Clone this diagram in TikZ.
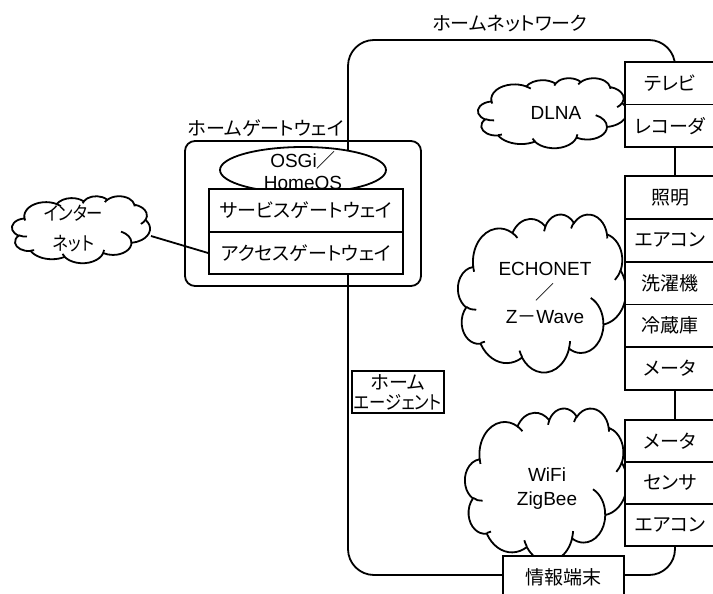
\documentclass[tikz,border=0pt]{standalone}
\usepackage{fontspec}
\usepackage{xfp}
\usepackage{graphicx}
\setmainfont{Liberation Sans}
\newfontfamily\jp[RawFeature=+palt]{Noto Sans CJK JP}
\usetikzlibrary{shapes.geometric}

% ---- cloud outline (43200 x 43200 design space, y downwards) ----
\newcommand\ooConv[3]{(#3)+(atand((#1)*sind(#3),(#2)*cosd(#3))-(#3))-360*round((atand((#1)*sind(#3),(#2)*cosd(#3))-(#3))/360)}
\newcommand\ooMove[2]{\pgfpathmoveto{\pgfpoint{\fpeval{round(\ooX+(#1)*\ooW/43200,4)}pt}{\fpeval{round(-(\ooY+(#2)*\ooH/43200),4)}pt}}}
\newcommand\ooArc[4]{%
  \edef\ooTs{\fpeval{round(-(\ooConv{#1}{#2}{#3}),4)}}%
  \edef\ooTe{\fpeval{round(-(\ooConv{#1}{#2}{(#3)+(#4)}),4)}}%
  \edef\ooRx{\fpeval{round((#1)*\ooW/43200,4)}}%
  \edef\ooRy{\fpeval{round((#2)*\ooH/43200,4)}}%
  \pgfpatharc{\ooTs}{\ooTe}{\ooRx pt and \ooRy pt}}
% #1,#2 top-left corner, #3 width, #4 height
\newcommand\ooCloud[4]{%
  \begin{pgfscope}
  \def\ooX{#1}\def\ooY{#2}\def\ooW{#3}\def\ooH{#4}%
  \ooMove{3900}{14370}%
  \ooArc{6753}{9190}{-190.4875}{123.7805}%
  \ooArc{5333}{7267}{-144.1024}{89.9452}%
  \ooArc{4365}{5945}{-145.8079}{99.7230}%
  \ooArc{4857}{6595}{-130.9861}{117.2417}%
  \ooArc{5333}{7273}{-78.7089}{109.0269}%
  \ooArc{6775}{9220}{-46.2673}{130.2690}%
  \ooArc{5785}{7867}{0.6250}{114.0333}%
  \ooArc{6752}{9215}{22.4516}{115.1726}%
  \ooArc{7720}{10543}{66.2426}{75.7110}%
  \ooArc{4360}{5918}{-274.9421}{146.7356}%
  \ooArc{4345}{5945}{-246.8285}{152.5189}%
  \pgfpathclose
  \pgfsetfillcolor{white}%
  \pgfusepath{fill,stroke}%
  \ooMove{4693}{26177}\ooArc{4345}{5945}{86.7420}{26.4295}%
  \ooMove{6928}{34899}\ooArc{4360}{5918}{73.6105}{11.4475}%
  \ooMove{16478}{39090}\ooArc{6752}{9215}{137.6242}{14.0811}%
  \ooMove{28827}{34751}\ooArc{6752}{9215}{6.4533}{15.9984}%
  \ooMove{34129}{22954}\ooArc{5785}{7867}{-70.2924}{70.9174}%
  \ooMove{41798}{15354}\ooArc{5333}{7273}{30.3180}{27.7515}%
  \ooMove{38324}{5426}\ooArc{4857}{6595}{-13.7443}{14.8589}%
  \ooMove{29078}{3952}\ooArc{4857}{6595}{-149.1815}{18.1954}%
  \ooMove{22141}{4720}\ooArc{4365}{5945}{-163.4943}{17.6864}%
  \ooMove{14000}{5192}\ooArc{6753}{9190}{-66.7070}{12.3194}%
  \ooMove{4127}{15789}\ooArc{6753}{9190}{157.6544}{11.8582}%
  \pgfusepath{stroke}%
  \end{pgfscope}}
\newcommand\narrow[1]{\scalebox{0.86}[1]{#1}}

\begin{document}
\begin{tikzpicture}[x=1pt,y=-1pt,line width=1.8pt,
  jtext/.style={font=\jp\fontsize{19}{24}\selectfont,align=center,inner sep=0pt},
  ltext/.style={font=\fontsize{19}{24}\selectfont,align=center,inner sep=0pt},
  boxed/.style={draw,fill=white,inner sep=0pt},
  devbox/.style={boxed,jtext,minimum width=90pt,minimum height=#1}]
\useasboundingbox (0,0) rectangle (713,594);
\clip (0,0) rectangle (713,594);

% home network frame
\node[draw,rounded corners=26pt,minimum width=327pt,minimum height=535pt,inner sep=0pt] (net) at (511.5,307.5) {};
\node[jtext] (netlbl) at (510,24) {ホームネットワーク};

% home gateway frame
\node[draw,rounded corners=10pt,minimum width=236pt,minimum height=145pt,inner sep=0pt] (gw) at (303,213.5) {};
\node[jtext,anchor=west] (gwlbl) at (187,128) {ホームゲートウェイ};

% clouds
\ooCloud{12}{196}{138}{67}
\ooCloud{478}{78}{149}{70}
\ooCloud{458}{214}{168}{158}
\ooCloud{465}{408}{162}{153}

% gateway contents
\node[boxed,ellipse,minimum width=166pt,minimum height=46pt] (osgi) at (303,170) {};
\node[boxed,jtext,minimum width=194pt,minimum height=43pt] (sgw) at (306,210.5) {サービスゲートウェイ};
\node[boxed,jtext,minimum width=194pt,minimum height=42pt] (agw) at (306,253) {アクセスゲートウェイ};
\node[ltext,font=\fontsize{19}{22}\selectfont] (osgitext) at (303,171) {OSGi{\jp ／}\\HomeOS};

% devices along the right edge of the home network
\node[devbox=42.5pt] (tv)  at (670,83.25) {テレビ};
\node[devbox=42.5pt] (rec) at (670,125.75) {レコーダ};
\node[devbox=42.8pt] (light) at (670,197.4) {照明};
\node[devbox=42.8pt] (ac1)   at (670,240.2) {エアコン};
\node[devbox=42.8pt] (wash)  at (670,283.0) {洗濯機};
\node[devbox=42.8pt] (fridge) at (670,325.8) {冷蔵庫};
\node[devbox=42.8pt] (meter1) at (670,368.6) {メータ};
\node[devbox=42pt] (meter2) at (670,441) {メータ};
\node[devbox=42pt] (sensor) at (670,483) {センサ};
\node[devbox=42pt] (ac2)    at (670,525) {エアコン};

% agent and terminal
\node[boxed,jtext,font=\jp\fontsize{19}{20}\selectfont,minimum width=92pt,minimum height=42pt] (agent) at (398,392) {ホーム\\\narrow{エージェント}};
\node[boxed,jtext,minimum width=121pt,minimum height=42pt] (info) at (563.5,577) {情報端末};

% cloud labels
\node[jtext,font=\jp\fontsize{19}{30}\selectfont] (inet) at (73.5,228) {\narrow{インター}\\\narrow{ネット}};
\node[ltext] (dlna) at (556,113) {DLNA};
\node[ltext] (echonet) at (545,293) {ECHONET\\{\jp ／}\\Z{\jp －}Wave};
\node[ltext] (wifi) at (547,489) {WiFi\\ZigBee};

% internet link
\coordinate (inetedge) at (151,236);
\draw (inetedge) -- (agw.west);
\end{tikzpicture}
\end{document}
